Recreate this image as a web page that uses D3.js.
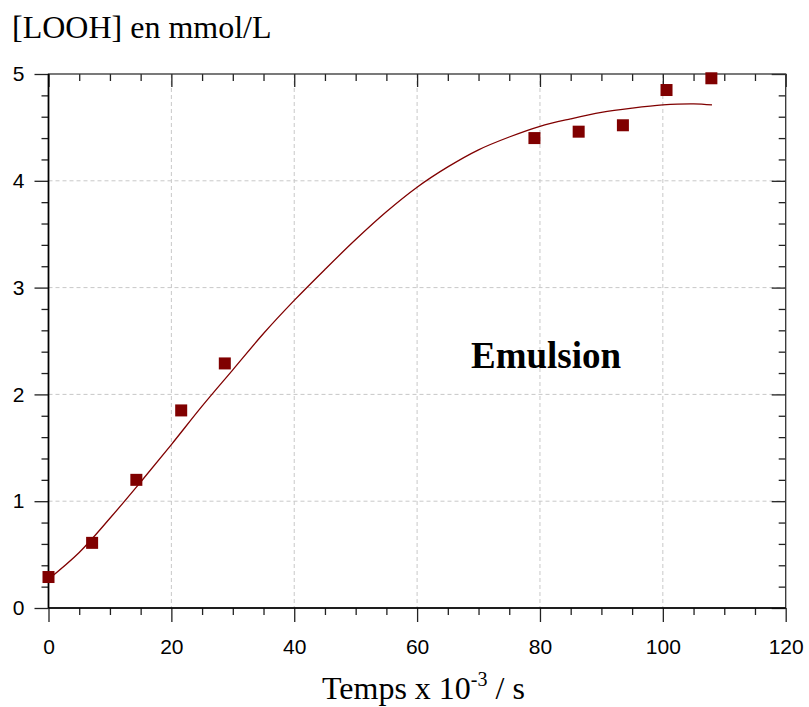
<!DOCTYPE html>
<html>
<head>
<meta charset="utf-8">
<script src="https://cdn.jsdelivr.net/npm/d3@7"></script>
<style>
  html, body { margin: 0; padding: 0; background: #fff; }
  svg { display: block; }
</style>
</head>
<body>
<svg id="chart" width="809" height="707"></svg>
<script>
// ---- data ----
const timeValues = [0, 7.1, 14.3, 21.6, 28.7, 79.1, 86.3, 93.5, 100.6, 107.9];
const loohValues = [0.29, 0.61, 1.20, 1.85, 2.29, 4.40, 4.46, 4.52, 4.85, 4.96];
const fitTimes   = [0, 5, 10, 15, 20, 25, 30, 35, 40, 45, 50, 55, 60, 65, 70, 75, 80, 85, 90, 95, 100, 105, 108];
const fitValues  = [0.27, 0.52, 0.84, 1.18, 1.53, 1.89, 2.23, 2.57, 2.88, 3.17, 3.45, 3.71, 3.94, 4.13, 4.29, 4.41, 4.51, 4.58, 4.64, 4.68, 4.71, 4.72, 4.71];
const xTicks = [0, 20, 40, 60, 80, 100, 120];
const yTicks = [0, 1, 2, 3, 4, 5];
const xMinor = d3.range(0, 120.01, 5);
const yMinor = d3.range(0, 5.001, 0.2);
const yTitle = "[LOOH] en mmol/L";
const annotation = "Emulsion";

(function () {
// ---- layout ----
const svg = d3.select("#chart");
const pL = 48.5, pR = 785.7, pT = 74, pB = 608;
const x = d3.scaleLinear().domain([0, 120]).range([pL, pR]);
const y = d3.scaleLinear().domain([0, 5]).range([pB, pT]);
const red = "#800000";
const MAJ = 14, MIN = 7;

// grid
const grid = svg.append("g").attr("stroke", "#c8c8c8").attr("stroke-dasharray", "4,3").attr("stroke-width", 1);
grid.selectAll("line.gx").data(xTicks.filter(d => d > 0 && d < 120)).join("line")
  .attr("x1", d => x(d)).attr("x2", d => x(d)).attr("y1", pT).attr("y2", pB);
grid.selectAll("line.gy").data(yTicks.filter(d => d > 0 && d < 5)).join("line")
  .attr("y1", d => y(d)).attr("y2", d => y(d)).attr("x1", pL).attr("x2", pR);

const fmt = d3.format("d");
const axisStyle = g => {
  g.select(".domain").remove();
  g.selectAll("line").attr("stroke", "#222").attr("stroke-width", 1.3);
  g.selectAll("text").attr("fill", "#000").attr("font-family", "'Liberation Sans', Arial, sans-serif").attr("font-size", 21);
};
const xMin = xMinor.filter(d => d % 20 !== 0);
const yMin = yMinor.filter(d => Math.abs(d - Math.round(d)) > 1e-6);

svg.append("g").attr("transform", `translate(0,${pB})`)
  .call(d3.axisBottom(x).tickValues(xTicks).tickFormat(fmt).tickSize(MAJ).tickPadding(17))
  .call(axisStyle);
svg.append("g").attr("transform", `translate(0,${pB})`)
  .call(d3.axisBottom(x).tickValues(xMin).tickFormat("").tickSize(MIN))
  .call(axisStyle);
svg.append("g").attr("transform", `translate(0,${pT})`)
  .call(d3.axisBottom(x).tickValues(xTicks).tickFormat("").tickSize(MAJ - 1))
  .call(axisStyle);
svg.append("g").attr("transform", `translate(0,${pT})`)
  .call(d3.axisBottom(x).tickValues(xMin).tickFormat("").tickSize(MIN))
  .call(axisStyle);
svg.append("g").attr("transform", `translate(${pL},0)`)
  .call(d3.axisLeft(y).tickValues(yTicks).tickFormat(fmt).tickSize(MAJ).tickPadding(10))
  .call(axisStyle);
svg.append("g").attr("transform", `translate(${pL},0)`)
  .call(d3.axisLeft(y).tickValues(yMin).tickFormat("").tickSize(MIN))
  .call(axisStyle);
svg.append("g").attr("transform", `translate(${pR},0)`)
  .call(d3.axisLeft(y).tickValues(yTicks).tickFormat("").tickSize(MAJ))
  .call(axisStyle);
svg.append("g").attr("transform", `translate(${pR},0)`)
  .call(d3.axisLeft(y).tickValues(yMin).tickFormat("").tickSize(MIN))
  .call(axisStyle);

// frame
svg.append("rect").attr("x", pL).attr("y", pT).attr("width", pR - pL).attr("height", pB - pT)
  .attr("fill", "none").attr("stroke", "#333").attr("stroke-width", 1.3);
svg.append("line").attr("x1", pL).attr("x2", pL).attr("y1", pT).attr("y2", pB)
  .attr("stroke", "#000").attr("stroke-width", 1.6);
svg.append("line").attr("x1", pL).attr("x2", pR).attr("y1", pB).attr("y2", pB)
  .attr("stroke", "#000").attr("stroke-width", 1.6);

// fitted curve
const fit = fitTimes.map((t, i) => [t, fitValues[i]]);
svg.append("path").datum(fit)
  .attr("fill", "none").attr("stroke", red).attr("stroke-width", 1.3)
  .attr("d", d3.line().x(d => x(d[0])).y(d => y(d[1])).curve(d3.curveCatmullRom));

// data squares
const S = 12;
svg.append("g").selectAll("rect").data(timeValues.map((t, i) => [t, loohValues[i]])).join("rect")
  .attr("x", d => x(d[0]) - S / 2).attr("y", d => y(d[1]) - S / 2)
  .attr("width", S).attr("height", S).attr("fill", red);

// texts
svg.append("text").attr("x", 12).attr("y", 37.5)
  .attr("font-family", "'Liberation Serif', 'Times New Roman', serif").attr("font-size", 32)
  .text(yTitle);

svg.append("text").attr("x", 471).attr("y", 367.5)
  .attr("font-family", "'Liberation Serif', 'Times New Roman', serif").attr("font-size", 37).attr("font-weight", "bold")
  .text(annotation);

const xt = svg.append("text").attr("x", 322).attr("y", 698.5)
  .attr("font-family", "'Liberation Serif', 'Times New Roman', serif").attr("font-size", 32);
xt.append("tspan").text("Temps x 10");
xt.append("tspan").attr("dy", -13).attr("font-size", 20).text("-3");
xt.append("tspan").attr("dy", 13).text(" / s");
})();
</script>
</body>
</html>
